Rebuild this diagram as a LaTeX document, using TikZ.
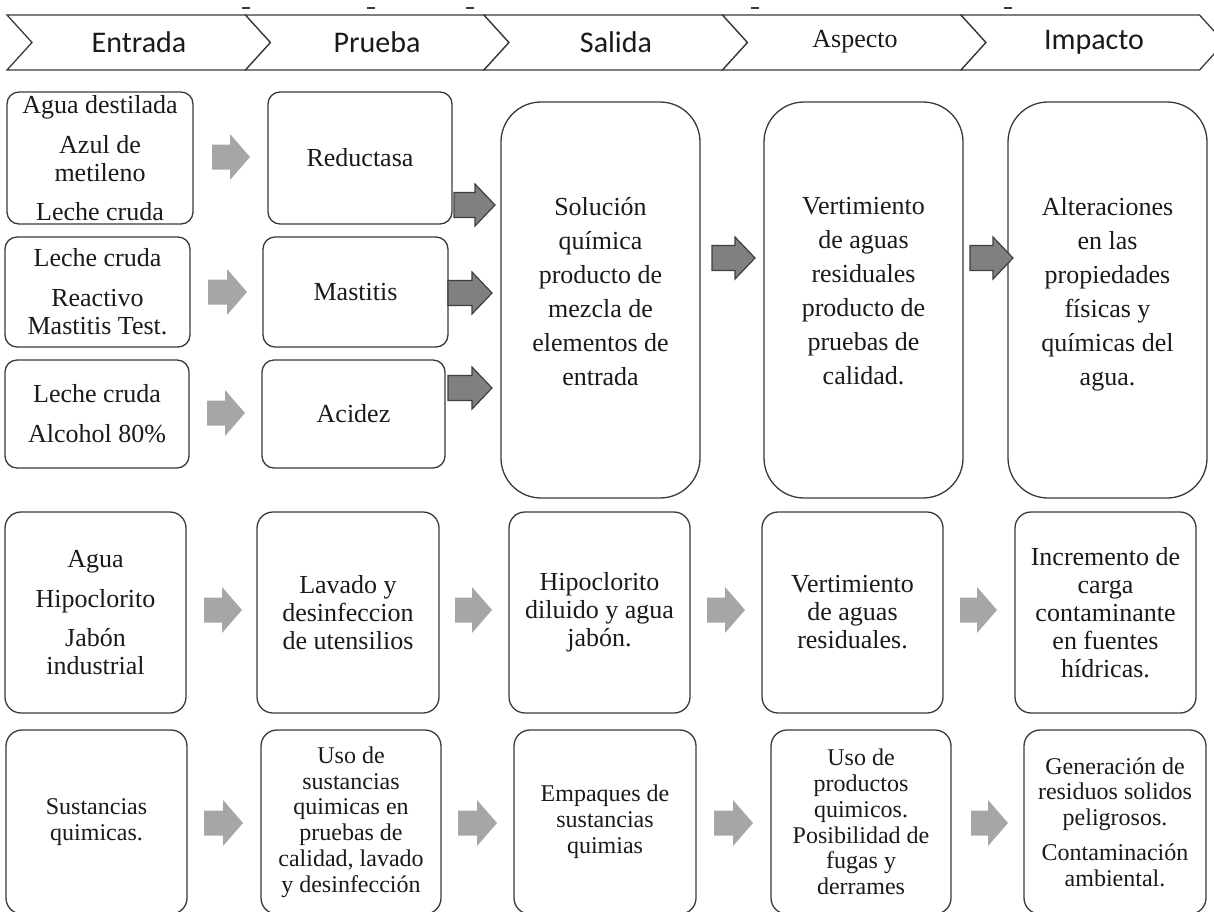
\documentclass[tikz,border=0pt]{standalone}
\usepackage{fontspec}
\setmainfont{Liberation Serif}
\newfontfamily\hdrfont{Carlito}
\definecolor{bordc}{HTML}{3A3A3A}
\definecolor{txtc}{HTML}{1A1A1A}
\definecolor{lightarr}{HTML}{A6A6A6}
\definecolor{darkarr}{HTML}{808080}
\definecolor{darkarrb}{HTML}{3F3F3F}
\newcommand\blockarr[5]{%
  \draw[#1] (#2,#4-12.5) -- (#3-20,#4-12.5) -- (#3-20,#4-#5) -- (#3,#4)
    -- (#3-20,#4+#5) -- (#3-20,#4+12.5) -- (#2,#4+12.5) -- cycle;}
\begin{document}
\begin{tikzpicture}[x=1pt,y=-1pt,
  boxbase/.style={draw=bordc, line width=1.3pt, fill=white, align=center, text=txtc, inner sep=0pt},
  sbox/.style={boxbase, rounded corners=12pt},
  mbox/.style={boxbase, rounded corners=16pt},
  bigbox/.style={boxbase, rounded corners=40pt},
  fa/.style={font=\fontsize{26}{28}\selectfont},
  fb/.style={font=\fontsize{24}{25.8}\selectfont},
  fc/.style={font=\fontsize{26}{34}\selectfont},
  chev/.style={draw=bordc, line width=1.3pt, fill=white, line join=miter},
  hdr/.style={font=\hdrfont\fontsize{30}{32}\selectfont, text=txtc},
  hdrserif/.style={font=\fontsize{26}{28}\selectfont, text=txtc},
  larr/.style={fill=lightarr, draw=none},
  darr/.style={fill=darkarr, draw=darkarrb, line width=1.2pt, line join=miter},
  tick/.style={draw=bordc, line width=1.5pt}
]
\useasboundingbox (0,0) rectangle (1214,911);

% top ticks
\foreach \tx in {246,371,470,755,1008} \draw[tick] (\tx-4,8) -- (\tx+4,8);

% header chevrons
\foreach \i in {0,...,4} {
  \pgfmathsetmacro\xa{7+238.5*\i}
  \draw[chev] (\xa,15) -- (\xa+238.5,15) -- (\xa+263.5,42.5) -- (\xa+238.5,70)
     -- (\xa,70) -- (\xa+25,42.5) -- cycle;
}
\node[hdr] (h1) at (139,42) {Entrada};
\node[hdr] (h2) at (377,42) {Prueba};
\node[hdr] (h3) at (616,42) {Salida};
\node[hdrserif] (h4) at (855,42) {Aspecto};
\node[hdr] (h5) at (1094,42) {Impacto};

% row 1 left boxes
\node[sbox, fa, minimum width=186pt, minimum height=132pt] (a1) at (100,158)
  {Agua destilada\\[12pt]Azul de\\metileno\\[11pt]Leche cruda};
\node[sbox, fa, minimum width=184pt, minimum height=132pt] (b1) at (360,158) {Reductasa};
\node[sbox, fa, minimum width=185pt, minimum height=110pt] (a2) at (97.5,292)
  {Leche cruda\\[12pt]Reactivo\\Mastitis Test.};
\node[sbox, fa, minimum width=185pt, minimum height=110pt] (b2) at (355.5,292) {Mastitis};
\node[sbox, fa, minimum width=184pt, minimum height=108pt] (a3) at (97,414)
  {Leche cruda\\[12pt]Alcohol 80\%};
\node[sbox, fa, minimum width=183pt, minimum height=108pt] (b3) at (353.5,414) {Acidez};

% row 1 big boxes (trailing short line lifts the text a little, as in the original)
\node[bigbox, fc, minimum width=199pt, minimum height=396pt] (s1) at (600.5,300)
  {Solución\\química\\producto de\\mezcla de\\elementos de\\entrada\\[-16pt]\mbox{}};
\node[bigbox, fc, minimum width=199pt, minimum height=396pt] (v1) at (863.5,300)
  {Vertimiento\\de aguas\\residuales\\producto de\\pruebas de\\calidad.\\[-16pt]\mbox{}};
\node[bigbox, fc, minimum width=199pt, minimum height=396pt] (i1) at (1107.5,300)
  {Alteraciones\\en las\\propiedades\\físicas y\\químicas del\\agua.\\[-16pt]\mbox{}};

% row 1 arrows
\blockarr{larr}{212}{250}{157}{23}
\blockarr{larr}{208}{247}{292}{23}
\blockarr{larr}{207}{245}{413}{23}
\blockarr{darr}{454}{495}{205}{21}
\blockarr{darr}{448}{492}{293}{21}
\blockarr{darr}{448}{492}{388}{21}
\blockarr{darr}{712}{755}{258}{21}
\blockarr{darr}{970}{1013}{258}{21}

% row 2
\node[mbox, fa, minimum width=181pt, minimum height=201pt] (a4) at (95.5,612.5)
  {Agua\\[12pt]Hipoclorito\\[11pt]Jabón\\industrial};
\node[mbox, fa, minimum width=182pt, minimum height=201pt] (b4) at (348,612.5)
  {Lavado y\\desinfeccion\\de utensilios};
\node[mbox, fa, minimum width=181pt, minimum height=201pt] (c4) at (599.5,612.5)
  {Hipoclorito\\diluido y agua\\jabón.};
\node[mbox, fa, minimum width=181pt, minimum height=201pt] (d4) at (852.5,612.5)
  {Vertimiento\\de aguas\\residuales.};
\node[mbox, fa, minimum width=181pt, minimum height=201pt] (e4) at (1105.5,612.5)
  {Incremento de\\carga\\contaminante\\en fuentes\\hídricas.};
\blockarr{larr}{204}{242}{610}{23}
\blockarr{larr}{455}{492}{610}{23}
\blockarr{larr}{707}{745}{610}{23}
\blockarr{larr}{960}{997}{610}{23}

% row 3
\node[mbox, fb, minimum width=181pt, minimum height=184pt] (a5) at (96.5,822)
  {Sustancias\\quimicas.};
\node[mbox, fb, minimum width=180pt, minimum height=184pt] (b5) at (351,822)
  {Uso de\\sustancias\\quimicas en\\pruebas de\\calidad, lavado\\y desinfección};
\node[mbox, fb, minimum width=182pt, minimum height=184pt] (c5) at (605,822)
  {Empaques de\\sustancias\\quimias};
\node[mbox, fb, minimum width=180pt, minimum height=184pt] (d5) at (861,822)
  {Uso de\\productos\\quimicos.\\Posibilidad de\\fugas y\\derrames};
\node[mbox, fb, minimum width=182pt, minimum height=184pt] (e5) at (1115,822)
  {Generación de\\residuos solidos\\peligrosos.\\[9pt]Contaminación\\ambiental.};
\blockarr{larr}{204}{243}{823}{23}
\blockarr{larr}{458}{497}{823}{23}
\blockarr{larr}{714}{753}{823}{23}
\blockarr{larr}{971}{1008}{823}{23}
\end{tikzpicture}
\end{document}
